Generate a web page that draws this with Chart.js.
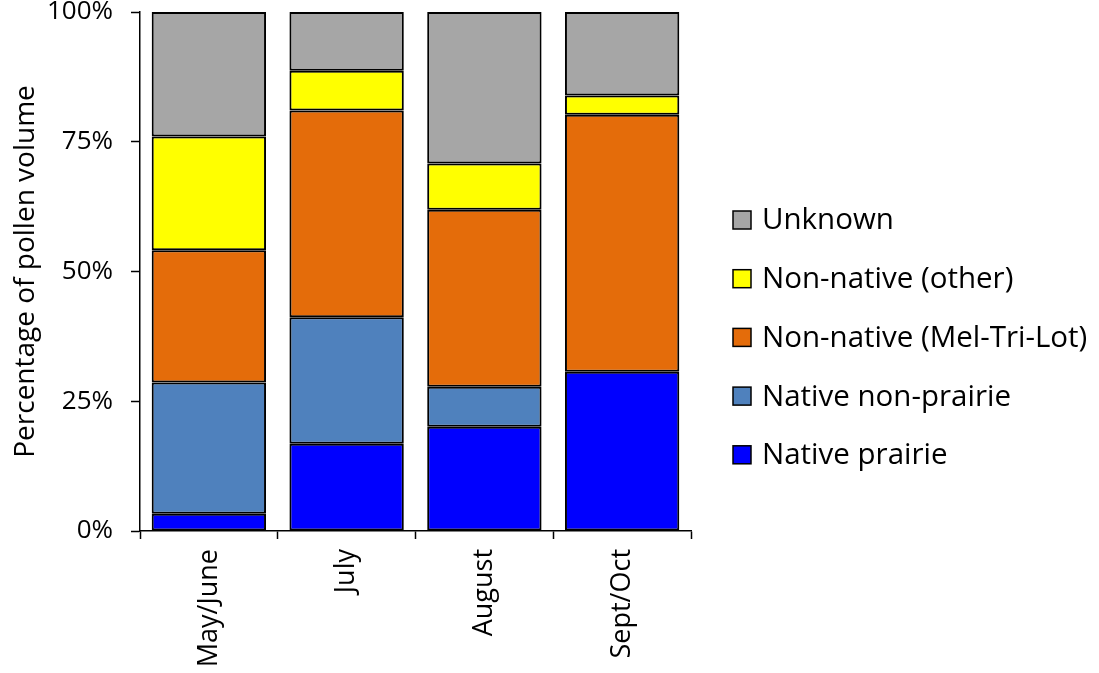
<!DOCTYPE html>
<html>
<head>
<meta charset="utf-8">
<script src="https://cdn.jsdelivr.net/npm/chart.js@4.4.1/dist/chart.umd.min.js"></script>
<style>
  html, body { margin: 0; padding: 0; background: #fff; }
  #wrap { width: 1099px; height: 673px; }
</style>
</head>
<body>
<div id="wrap"><canvas id="pollenChart" width="1099" height="673"></canvas></div>
<script>
const categories = ['May/June', 'July', 'August', 'Sept/Oct'];
const nativePrairie = [3.3, 16.8, 20.1, 30.7];
const nativeNonPrairie = [25.3, 24.4, 7.7, 0];
const melTriLot = [25.5, 39.8, 34.1, 49.5];
const nonNativeOther = [21.9, 7.7, 8.9, 3.7];
const unknown = [24.0, 11.3, 29.2, 16.1];
const yTicks = [0, 25, 50, 75, 100];

const FONT = '"Open Sans", "DejaVu Sans", sans-serif';
Chart.defaults.color = '#000';
Chart.defaults.font.family = FONT;

function serie(label, data, color) {
    return {
        label: label,
        data: data,
        backgroundColor: color,
        borderColor: '#000',
        borderWidth: 2,
        borderSkipped: false,
        barPercentage: 0.83,
        categoryPercentage: 1.0
    };
}

// legend drawn on the right, top entry = top of the stack
const sideLegend = {
    id: 'sideLegend',
    afterDraw(chart) {
        const ctx = chart.ctx;
        const sets = chart.data.datasets.slice().reverse();
        const x = 733, y0 = 220, step = 58.7, box = 18;
        ctx.save();
        ctx.font = '29.5px ' + FONT;
        ctx.textBaseline = 'middle';
        ctx.textAlign = 'left';
        sets.forEach((ds, i) => {
            const cy = y0 + i * step;
            ctx.fillStyle = ds.backgroundColor;
            ctx.fillRect(x, cy - box / 2, box, box);
            ctx.lineWidth = 1.5;
            ctx.strokeStyle = '#000';
            ctx.strokeRect(x, cy - box / 2, box, box);
            ctx.fillStyle = '#000';
            ctx.fillText(ds.label, x + 29, cy + 1);
        });
        ctx.restore();
    }
};

// soft halo under the bars
const barShadow = {
    id: 'barShadow',
    beforeDatasetsDraw(chart) {
        const ctx = chart.ctx;
        ctx.save();
        ctx.shadowColor = 'rgba(0,0,0,0.18)';
        ctx.shadowBlur = 5;
    },
    afterDatasetsDraw(chart) {
        chart.ctx.restore();
    }
};

const ctx = document.getElementById('pollenChart').getContext('2d');
const chart = new Chart(ctx, {
    type: 'bar',
    data: {
        labels: categories,
        datasets: [
            serie('Native prairie', nativePrairie, '#0000FF'),
            serie('Native non-prairie', nativeNonPrairie, '#4F81BD'),
            serie('Non-native (Mel-Tri-Lot)', melTriLot, '#E46C0A'),
            serie('Non-native (other)', nonNativeOther, '#FFFF00'),
            serie('Unknown', unknown, '#A6A6A6')
        ]
    },
    options: {
        responsive: false,
        animation: false,
        layout: { padding: { top: 12, right: 408, bottom: 0, left: 9 } },
        plugins: {
            legend: { display: false },
            tooltip: { enabled: false }
        },
        scales: {
            x: {
                stacked: true,
                afterFit: scale => {
                    scale.height = 142;
                    scale.paddingLeft = 0;
                    scale.paddingRight = 0;
                },
                border: { display: true, color: '#000', width: 1.5 },
                grid: {
                    display: true,
                    offset: true,
                    drawOnChartArea: false,
                    drawTicks: true,
                    tickLength: 8,
                    tickColor: '#000',
                    tickWidth: 1.5
                },
                ticks: {
                    minRotation: 90,
                    maxRotation: 90,
                    padding: 10,
                    font: { size: 27 }
                }
            },
            y: {
                stacked: true,
                min: 0,
                max: 100,
                afterFit: scale => {
                    scale.width = 131;
                    scale.paddingTop = 0;
                    scale.paddingBottom = 0;
                },
                afterBuildTicks: scale => { scale.ticks = yTicks.map(v => ({ value: v })); },
                border: { display: true, color: '#000', width: 1.5 },
                grid: {
                    display: true,
                    drawOnChartArea: false,
                    drawTicks: true,
                    tickLength: 9,
                    tickColor: '#000',
                    tickWidth: 1.5
                },
                ticks: {
                    padding: 18,
                    font: { size: 26 },
                    callback: v => v + '%'
                },
                title: {
                    display: true,
                    text: 'Percentage of pollen volume',
                    font: { size: 28 },
                    padding: { top: 0, bottom: 4 }
                }
            }
        }
    },
    plugins: [barShadow, sideLegend]
});
</script>
</body>
</html>
